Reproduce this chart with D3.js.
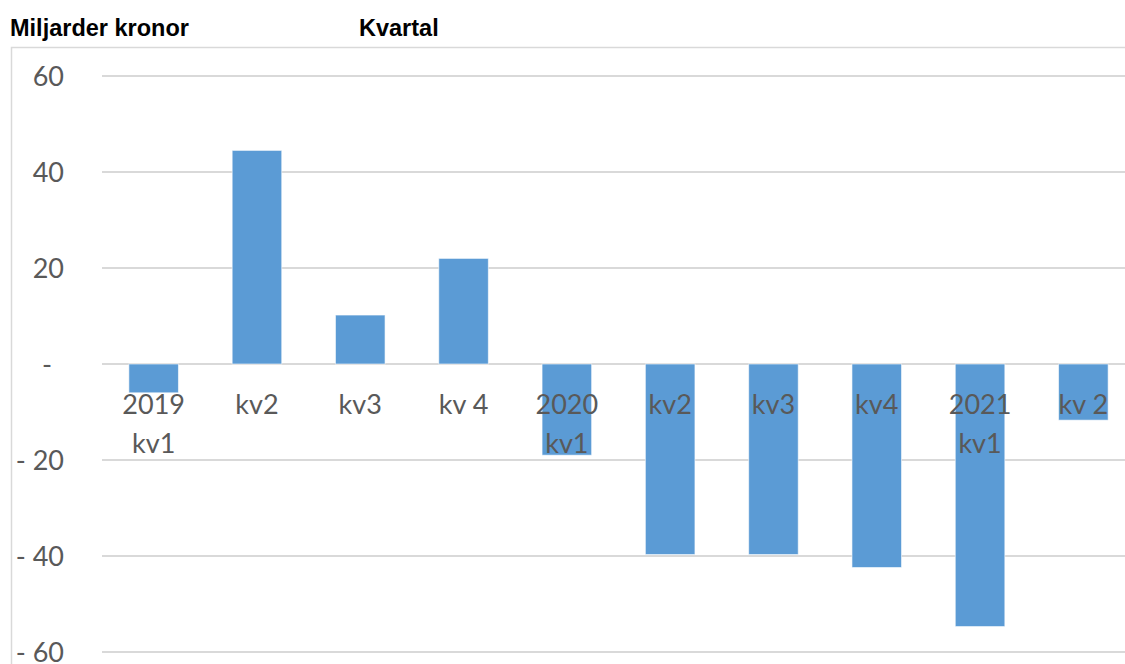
<!DOCTYPE html>
<html>
<head>
<meta charset="utf-8">
<script src="https://cdn.jsdelivr.net/npm/d3@7"></script>
<style>
  html, body { margin: 0; padding: 0; background: #fff; }
  svg { display: block; }
</style>
</head>
<body>
<div id="chart"></div>
<script>
// Data (billion SEK per quarter)
const quarters = ['2019\nkv1', 'kv2', 'kv3', 'kv 4', '2020\nkv1', 'kv2', 'kv3', 'kv4', '2021\nkv1', 'kv 2'];
const values = [-6, 44.5, 10.2, 22, -19, -39.7, -39.7, -42.4, -54.7, -11.7];
const yTicks = [60, 40, 20, 0, -20, -40, -60];
const yTickLabels = ['60', '40', '20', '-', '- 20', '- 40', '- 60'];

const width = 1125;
const height = 664;

const svg = d3.select('#chart').append('svg')
  .attr('width', width)
  .attr('height', height);

// Light chart-area frame (runs off the right and bottom edge, as in the source)
svg.append('rect')
  .attr('x', 11.5)
  .attr('y', 47.5)
  .attr('width', width + 20)
  .attr('height', height)
  .attr('fill', 'none')
  .attr('stroke', '#d9d9d9')
  .attr('stroke-width', 1.5);

// Titles
svg.append('text')
  .attr('x', 10)
  .attr('y', 36)
  .attr('font-family', 'Liberation Sans, Arial, sans-serif')
  .attr('font-weight', 'bold')
  .attr('font-size', 23.5)
  .attr('fill', '#000')
  .text('Miljarder kronor');

svg.append('text')
  .attr('x', 359)
  .attr('y', 36)
  .attr('font-family', 'Liberation Sans, Arial, sans-serif')
  .attr('font-weight', 'bold')
  .attr('font-size', 23.5)
  .attr('fill', '#000')
  .text('Kvartal');

// Scales
const x = d3.scaleBand()
  .domain(d3.range(quarters.length))
  .range([102, 1135])
  .paddingInner(0.52)
  .paddingOuter(0.26);

const y = d3.scaleLinear()
  .domain([-60, 60])
  .range([652, 76]);

// Gridlines
svg.append('g')
  .selectAll('line')
  .data(yTicks)
  .join('line')
  .attr('x1', 102)
  .attr('x2', width)
  .attr('y1', d => y(d))
  .attr('y2', d => y(d))
  .attr('stroke', '#d9d9d9')
  .attr('stroke-width', 2);

// Y tick labels (Excel accounting style, zero shown as "-")
svg.append('g')
  .selectAll('text')
  .data(yTicks)
  .join('text')
  .attr('x', d => d === 0 ? 52 : 64)
  .attr('y', d => y(d))
  .attr('dy', '0.36em')
  .attr('text-anchor', 'end')
  .attr('font-family', 'Lato, Carlito, sans-serif')
  .attr('font-size', 27)
  .attr('fill', '#595959')
  .text((d, i) => yTickLabels[i]);

// Bars
svg.append('g')
  .selectAll('rect')
  .data(values)
  .join('rect')
  .attr('x', (d, i) => x(i))
  .attr('width', x.bandwidth())
  .attr('y', d => y(Math.max(0, d)))
  .attr('height', d => Math.abs(y(d) - y(0)))
  .attr('fill', '#5b9bd5')
  .attr('stroke', '#ffffff')
  .attr('stroke-opacity', 0.6)
  .attr('stroke-width', 1);

// Category labels sit just below the zero line, on top of the bars
const labels = svg.append('g')
  .selectAll('text')
  .data(quarters)
  .join('text')
  .attr('x', (d, i) => x(i) + x.bandwidth() / 2)
  .attr('y', y(0) + 50)
  .attr('text-anchor', 'middle')
  .attr('font-family', 'Lato, Carlito, sans-serif')
  .attr('font-size', 27)
  .attr('fill', '#595959');

labels.each(function(d) {
  const t = d3.select(this);
  d.split('\n').forEach((line, k) => {
    t.append('tspan')
      .attr('x', t.attr('x'))
      .attr('dy', k === 0 ? 0 : 39)
      .text(line);
  });
});
</script>
</body>
</html>
